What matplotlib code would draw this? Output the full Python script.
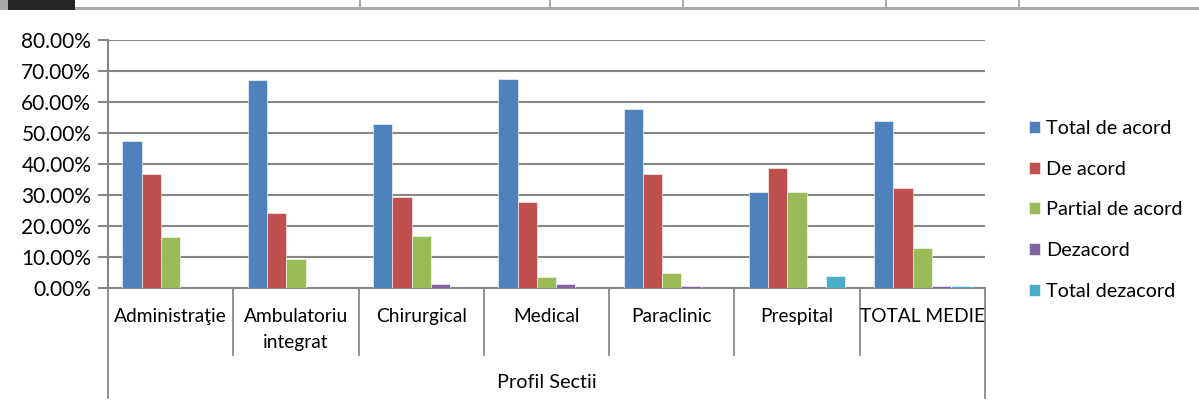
import matplotlib.pyplot as plt
import matplotlib.transforms as mtransforms
from matplotlib.patches import Rectangle
import numpy as np

plt.rcParams['font.family'] = ['Lato', 'DejaVu Sans']

categories = ['Administraţie', 'Ambulatoriu\nintegrat', 'Chirurgical', 'Medical',
              'Paraclinic', 'Prespital', 'TOTAL MEDIE']
series_names = ['Total de acord', 'De acord', 'Partial de acord', 'Dezacord', 'Total dezacord']
total_de_acord = [47.5, 67.1, 52.8, 67.3, 57.8, 30.9, 53.9]
de_acord = [36.7, 24.2, 29.3, 27.8, 36.9, 38.7, 32.2]
partial_de_acord = [16.5, 9.3, 16.7, 3.5, 4.7, 30.9, 13.0]
dezacord = [0.0, 0.0, 1.4, 1.4, 0.8, 0.0, 0.5]
total_dezacord = [0.0, 0.0, 0.0, 0.0, 0.0, 3.9, 0.5]
axis_title = 'Profil Sectii'

colors = ['#4F81BD', '#C0504D', '#9BBB59', '#8064A2', '#4BACC6']
grid_color = '#878787'
fs = 14.3

W, H = 1199, 403
fig = plt.figure(figsize=(W / 100, H / 100), dpi=100)

# spreadsheet strip at the very top
fig.patches.append(Rectangle((0, 1 - 10 / H), 1, 10 / H, transform=fig.transFigure,
                             facecolor='#A8A8A8', edgecolor='none'))
fig.patches.append(Rectangle((75 / W, 1 - 7 / H), 1 - 75 / W, 7 / H, transform=fig.transFigure,
                             facecolor='white', edgecolor='none'))
for xs in [359, 549, 682, 885, 1018]:
    fig.patches.append(Rectangle((xs / W, 1 - 8 / H), 2 / W, 8 / H, transform=fig.transFigure,
                                 facecolor='#A8A8A8', edgecolor='none'))
fig.patches.append(Rectangle((8 / W, 1 - 10 / H), 67 / W, 10 / H, transform=fig.transFigure,
                             facecolor='#262626', edgecolor='none'))

ax = fig.add_axes([108 / W, (H - 288) / H, 877 / W, 248 / H])

data = [total_de_acord, de_acord, partial_de_acord, dezacord, total_dezacord]
x = np.arange(len(categories))
bw = 1 / 6.5
for i, (vals, c, name) in enumerate(zip(data, colors, series_names)):
    ax.bar(x + (i - 2) * bw, vals, bw, color=c, edgecolor='white', linewidth=0.4,
           label=name, zorder=3)

ax.set_xlim(-0.5, len(categories) - 0.5)
ax.set_ylim(0, 80)
ax.set_yticks(np.arange(0, 81, 10))
ax.set_yticklabels(['%.2f%%' % v for v in np.arange(0, 81, 10)], fontsize=15)
ax.yaxis.grid(True, color=grid_color, linewidth=1.5, zorder=0)
ax.tick_params(axis='y', length=7, width=1.5, color=grid_color, pad=5)
ax.set_xticks([])
for s in ['top', 'right']:
    ax.spines[s].set_visible(False)
for s in ['left', 'bottom']:
    ax.spines[s].set_color(grid_color)
    ax.spines[s].set_linewidth(1.5)

# multi-level category axis
trans = mtransforms.blended_transform_factory(ax.transData, ax.transAxes)
for k in range(len(categories) + 1):
    bottom = -110 / 248 if k in (0, len(categories)) else -67 / 248
    ax.plot([k - 0.5, k - 0.5], [0, bottom], transform=trans, color=grid_color,
            linewidth=1.3, clip_on=False)
for k, cat in enumerate(categories):
    ax.text(k, -20 / 248, cat, transform=trans, ha='center', va='top', fontsize=13.8,
            linespacing=1.65)
ax.text((len(categories) - 1) / 2, -95 / 248, axis_title, transform=trans, ha='center',
        va='center', fontsize=fs)

leg = ax.legend(loc='center left', bbox_to_anchor=(1.03, 0.315), frameon=False, fontsize=fs,
                handlelength=0.55, handleheight=0.55, handletextpad=0.3, labelspacing=1.2)

fig.savefig('out.png', dpi=100)
